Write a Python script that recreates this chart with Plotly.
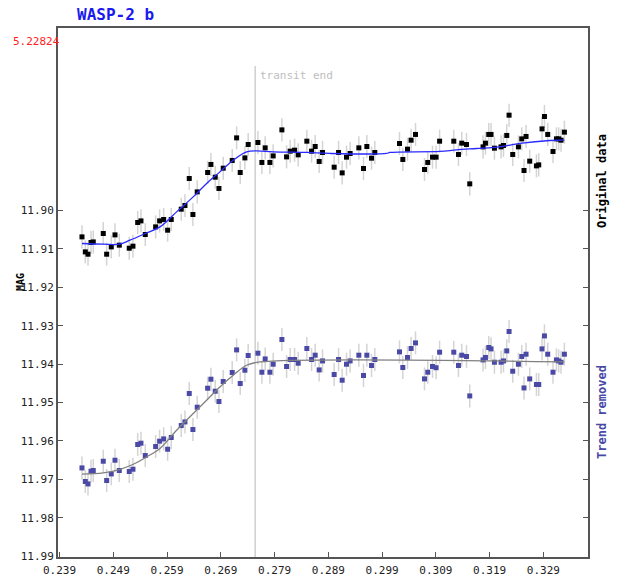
import plotly.graph_objects as go

# ---- data ----
phase = [0.24318, 0.24380, 0.24430, 0.24486, 0.24528, 0.24714, 0.24777, 0.24863, 0.24932, 0.25012,
         0.25197, 0.25266, 0.25354, 0.25415, 0.25495, 0.25688, 0.25762, 0.25837, 0.25911, 0.25978,
         0.26164, 0.26233, 0.26313, 0.26381, 0.26461, 0.26655, 0.26716, 0.26796, 0.26865, 0.26945,
         0.27112, 0.27194, 0.27261, 0.27348, 0.27409, 0.27590, 0.27664, 0.27725, 0.27813, 0.27874,
         0.28036, 0.28123, 0.28190, 0.28272, 0.28339, 0.28500, 0.28588, 0.28655, 0.28729, 0.28792,
         0.29008, 0.29090, 0.29157, 0.29238, 0.29305, 0.29467, 0.29554, 0.29616, 0.29703, 0.29764,
         0.30223, 0.30285, 0.30372, 0.30439, 0.30521, 0.30688, 0.30749, 0.30837, 0.30904, 0.30969,
         0.31233, 0.31320, 0.31381, 0.31469, 0.31530, 0.31777, 0.31822, 0.31883, 0.31926, 0.31989,
         0.32112, 0.32157, 0.32218, 0.32261, 0.32329, 0.32435, 0.32497, 0.32539, 0.32577, 0.32645,
         0.32770, 0.32813, 0.32874, 0.32919, 0.32980, 0.33078, 0.33142, 0.33184, 0.33227, 0.33290]

mag_original = [11.90687, 11.91078, 11.91138, 11.90833, 11.90818, 11.90599, 11.91138, 11.90948, 11.90635, 11.90903,
                11.90982, 11.90929, 11.90312, 11.90271, 11.90625, 11.90427, 11.90271, 11.90234, 11.90513, 11.90234,
                11.89966, 11.89870, 11.89167, 11.90104, 11.89516, 11.89011, 11.88802, 11.89133, 11.89427, 11.88899,
                11.88698, 11.88110, 11.89011, 11.88631, 11.88282, 11.88230, 11.88750, 11.88370, 11.88750, 11.88579,
                11.87902, 11.88605, 11.88456, 11.88430, 11.88552, 11.88196, 11.88456, 11.88334, 11.88724, 11.88490,
                11.88873, 11.88490, 11.89021, 11.88612, 11.88516, 11.88370, 11.88907, 11.88334, 11.88638, 11.88490,
                11.88256, 11.88672, 11.88404, 11.88170, 11.88021, 11.88933, 11.88750, 11.88612, 11.88612, 11.88196,
                11.88196, 11.88542, 11.88248, 11.88282, 11.89307, 11.88344, 11.88248, 11.88021, 11.88021, 11.88378,
                11.88344, 11.88308, 11.88047, 11.87519, 11.88542, 11.88344, 11.88136, 11.88959, 11.88073, 11.88716,
                11.88839, 11.88813, 11.87876, 11.87553, 11.88021, 11.88464, 11.88136, 11.88136, 11.88170, 11.87961]

mag_detrended = [11.96701, 11.97055, 11.97118, 11.96787, 11.96769, 11.96527, 11.97029, 11.96858, 11.96501, 11.96769,
                 11.96795, 11.96735, 11.96092, 11.96058, 11.96379, 11.96144, 11.96006, 11.95946, 11.96215, 11.95910,
                 11.95598, 11.95504, 11.94764, 11.95702, 11.95121, 11.94626, 11.94392, 11.94705, 11.94973, 11.94452,
                 11.94218, 11.93629, 11.94504, 11.94158, 11.93775, 11.93715, 11.94210, 11.93864, 11.94210, 11.94002,
                 11.93359, 11.94061, 11.93879, 11.93879, 11.93976, 11.93593, 11.93879, 11.93767, 11.94150, 11.93916,
                 11.94270, 11.93879, 11.94418, 11.94002, 11.93916, 11.93767, 11.94296, 11.93767, 11.94035, 11.93879,
                 11.93681, 11.94087, 11.93827, 11.93593, 11.93447, 11.94384, 11.94210, 11.94061, 11.94093, 11.93689,
                 11.93689, 11.94035, 11.93767, 11.93801, 11.94827, 11.93890, 11.93827, 11.93567, 11.93603, 11.93950,
                 11.93950, 11.93916, 11.93655, 11.93150, 11.94184, 11.94002, 11.93801, 11.94619, 11.93741, 11.94384,
                 11.94530, 11.94530, 11.93603, 11.93265, 11.93741, 11.94210, 11.93890, 11.93916, 11.93950, 11.93741]

mag_error = 0.003

fit_orig_x = [0.24318, 0.24714, 0.25012, 0.25210, 0.25495, 0.25768, 0.26078, 0.26387, 0.26636, 0.26883,
              0.27131, 0.27380, 0.27565, 0.27874, 0.28495, 0.28928, 0.29982, 0.30043, 0.30973, 0.31283,
              0.31655, 0.32088, 0.32459, 0.33017, 0.33290]
fit_orig_y = [11.90859, 11.90877, 11.90877, 11.90773, 11.90599, 11.90427, 11.90036, 11.89646, 11.89297, 11.88995,
              11.88690, 11.88474, 11.88448, 11.88474, 11.88490, 11.88516, 11.88516, 11.88490, 11.88464, 11.88422,
              11.88386, 11.88344, 11.88256, 11.88178, 11.88170]

fit_detr_x = [0.24318, 0.24714, 0.25012, 0.25272, 0.25521, 0.25768, 0.26078, 0.26387, 0.26636, 0.26883,
              0.27131, 0.27380, 0.27627, 0.33290]
fit_detr_y = [11.96865, 11.96832, 11.96743, 11.96605, 11.96415, 11.96196, 11.95720, 11.95285, 11.94939, 11.94593,
              11.94288, 11.94028, 11.93942, 11.93942]

transit_end = 0.27539

x_ticks = [0.239, 0.249, 0.259, 0.269, 0.279, 0.289, 0.299, 0.309, 0.319, 0.329]
x_labels = ["0.239", "0.249", "0.259", "0.269", "0.279", "0.289", "0.299", "0.309", "0.319", "0.329"]
y_ticks = [11.90, 11.91, 11.92, 11.93, 11.94, 11.95, 11.96, 11.97, 11.98, 11.99]
y_labels = ["11.90", "11.91", "11.92", "11.93", "11.94", "11.95", "11.96", "11.97", "11.98", "11.99"]

MONO = "DejaVu Sans Mono"
AXIS_COLOR = "#555555"
POINT_BLUE = "#4a4aa6"

fig = go.Figure()

# transit end line
fig.add_shape(type="line", x0=transit_end, x1=transit_end, xref="x", yref="y",
              y0=11.8624, y1=11.9902, line=dict(color="#cfcfcf", width=1.5), layer="below")

fig.add_trace(go.Scatter(
    x=phase, y=mag_original, mode="markers",
    marker=dict(symbol="square", size=5, color="black"),
    error_y=dict(type="constant", value=mag_error, color="#d4d4d4", thickness=1.5, width=0),
    showlegend=False))
fig.add_trace(go.Scatter(
    x=fit_orig_x, y=fit_orig_y, mode="lines", line=dict(color="#2a2aff", width=1.3, shape="spline"),
    showlegend=False))

fig.add_trace(go.Scatter(
    x=phase, y=mag_detrended, mode="markers",
    marker=dict(symbol="square", size=5, color=POINT_BLUE),
    error_y=dict(type="constant", value=mag_error, color="#d4d4d4", thickness=1.5, width=0),
    showlegend=False))
fig.add_trace(go.Scatter(
    x=fit_detr_x, y=fit_detr_y, mode="lines", line=dict(color="#808080", width=1.3, shape="spline"),
    showlegend=False))

annotations = [
    dict(text="<b>WASP-2 b</b>", xref="paper", yref="paper", x=0.108, y=1.026,
         xanchor="center", yanchor="middle", showarrow=False,
         font=dict(family=MONO, size=16, color="#1a1aee")),
    dict(text="5.22824", xref="paper", yref="paper", x=0.008, y=0.9754,
         xanchor="right", yanchor="middle", showarrow=False,
         font=dict(family=MONO, size=11, color="#ff2020")),
    dict(text="<b>MAG</b>", xref="paper", yref="paper", x=-0.0717, y=0.5198,
         xanchor="center", yanchor="middle", showarrow=False, textangle=-90,
         font=dict(family=MONO, size=10, color="black")),
    dict(text="<b>Original data</b>", xref="paper", yref="paper", x=1.0264, y=0.7108,
         xanchor="center", yanchor="middle", showarrow=False, textangle=-90,
         font=dict(family=MONO, size=12, color="black")),
    dict(text="<b>Trend removed</b>", xref="paper", yref="paper", x=1.0264, y=0.2741,
         xanchor="center", yanchor="middle", showarrow=False, textangle=-90,
         font=dict(family=MONO, size=12, color=POINT_BLUE)),
    dict(text="transit end", xref="x", yref="paper", x=transit_end, y=0.911,
         xanchor="left", yanchor="middle", xshift=3, showarrow=False,
         font=dict(family=MONO, size=11, color="#bdbdbd")),
]

fig.update_layout(
    width=620, height=580,
    margin=dict(l=58, r=32, t=28, b=23, autoexpand=False),
    paper_bgcolor="white", plot_bgcolor="white",
    annotations=annotations,
    font=dict(family=MONO, size=11, color="#222222"),
    xaxis=dict(range=[0.23872, 0.33729], tickvals=x_ticks, ticktext=x_labels,
               showgrid=False, zeroline=False, showline=True, linecolor=AXIS_COLOR, linewidth=2,
               mirror=True, ticks="inside", ticklen=5, tickcolor=AXIS_COLOR, tickwidth=1,
               ticklabelstandoff=2, automargin=False,
               tickfont=dict(family=MONO, size=11, color="#222222")),
    yaxis=dict(range=[11.9902, 11.8525], tickvals=y_ticks, ticktext=y_labels,
               showgrid=False, zeroline=False, showline=True, linecolor=AXIS_COLOR, linewidth=2,
               mirror="ticks", ticks="inside", ticklen=5, tickcolor=AXIS_COLOR, tickwidth=1,
               automargin=False,
               tickfont=dict(family=MONO, size=11, color="#222222")),
)

fig.write_html("out.html")
